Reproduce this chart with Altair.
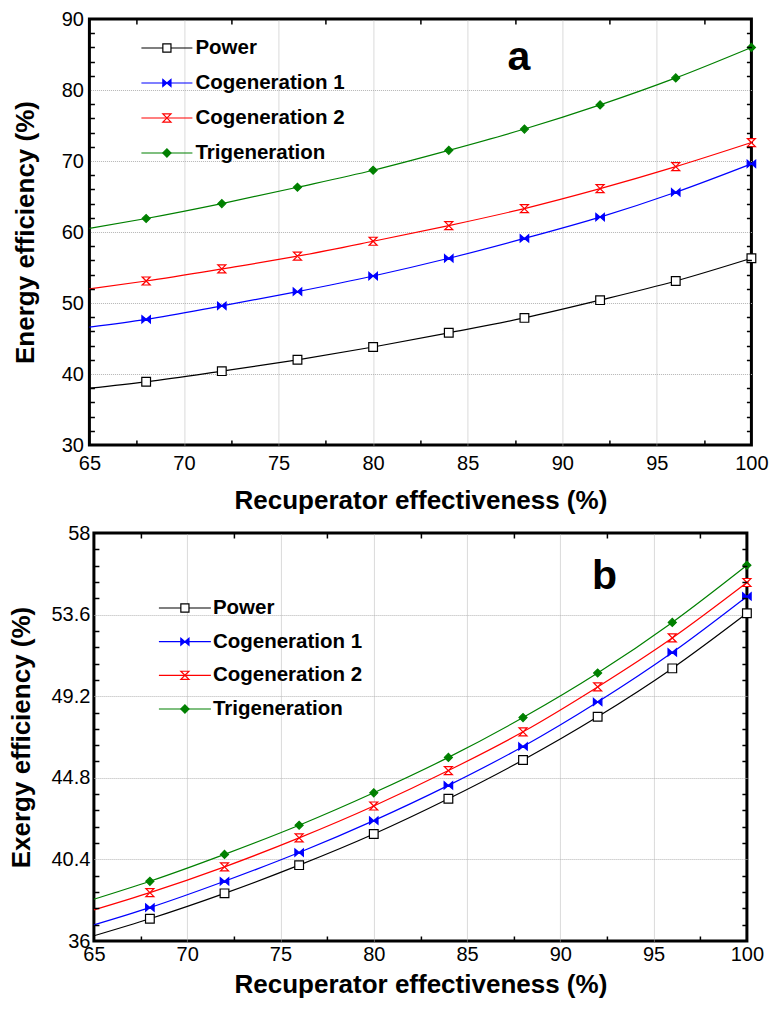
import altair as alt
import pandas as pd

# ---------------- data ----------------
x_pts = [65, 68, 72, 76, 80, 84, 88, 92, 96, 100]
series_names = ["Power", "Cogeneration 1", "Cogeneration 2", "Trigeneration"]

energy_power = [38.0, 38.9, 40.4, 42.0, 43.8, 45.8, 47.9, 50.4, 53.1, 56.3]
energy_cog1 = [46.6, 47.7, 49.6, 51.6, 53.8, 56.3, 59.1, 62.1, 65.6, 69.6]
energy_cog2 = [52.0, 53.1, 54.8, 56.6, 58.7, 60.9, 63.3, 66.1, 69.2, 72.6]
energy_trig = [60.5, 61.9, 64.0, 66.3, 68.7, 71.5, 74.5, 77.9, 81.7, 86.0]

exergy_power = [36.28, 37.2, 38.57, 40.09, 41.77, 43.67, 45.76, 48.09, 50.70, 53.67]
exergy_cog1 = [36.87, 37.8, 39.22, 40.77, 42.49, 44.39, 46.49, 48.89, 51.56, 54.58]
exergy_cog2 = [37.68, 38.61, 40.0, 41.56, 43.28, 45.19, 47.28, 49.7, 52.34, 55.33]
exergy_trig = [38.25, 39.22, 40.67, 42.24, 43.99, 45.9, 48.05, 50.45, 53.18, 56.26]

x_labels = [65, 70, 75, 80, 85, 90, 95, 100]
x_grid = [70, 75, 80, 85, 90, 95]
x_minor = [67.5, 72.5, 77.5, 82.5, 87.5, 92.5, 97.5]

energy_y_labels = [30, 40, 50, 60, 70, 80, 90]
energy_y_grid = [40, 50, 60, 70, 80]
energy_y_minor = [32, 34, 36, 38, 42, 44, 46, 48, 52, 54, 56, 58, 62, 64, 66, 68,
                  72, 74, 76, 78, 82, 84, 86, 88]

exergy_y_labels = [36, 40.4, 44.8, 49.2, 53.6, 58]
exergy_y_grid = [40.4, 44.8, 49.2, 53.6]
exergy_y_minor = [36.88, 37.76, 38.64, 39.52, 41.28, 42.16, 43.04, 43.92,
                  45.68, 46.56, 47.44, 48.32, 50.08, 50.96, 51.84, 52.72,
                  54.48, 55.36, 56.24, 57.12]

X_TITLE = "Recuperator effectiveness (%)"

# ---------------- styles ----------------
FONT = "Liberation Sans"
series_colors = ["#000000", "#0000ff", "#ff0000", "#008000"]
marker_fills = ["#ffffff", "#0000ff", "#ffffff", "#008000"]
marker_shapes = [
    "square",
    "M-1,-0.85L0,0L-1,0.85ZM1,-0.85L0,0L1,0.85Z",
    "M-1,-1H1L-1,1H1Z",
    "diamond",
]
marker_sizes = [76, 72, 64, 64]


def long_df(lists):
    rows = []
    for name, vals in zip(series_names, lists):
        for xv, yv in zip(x_pts, vals):
            rows.append({"series": name, "x": xv, "v": yv})
    return pd.DataFrame(rows)


def panel(df, y_domain, y_labels, y_grid, y_minor, W, H, y_title, tag, tag_x, tag_y,
          leg_x0, leg_x1, leg_xt, leg_rows, y_title_pad, y_label_pad,
          x_label_pad, x_title_pad):
    xs = alt.Scale(domain=[65, 100], nice=False, zero=False)
    ys = alt.Scale(domain=y_domain, nice=False, zero=False)
    base = alt.Chart(df)
    color_scale = alt.Scale(domain=series_names, range=series_colors)

    lab_x = alt.Axis(values=x_labels, grid=False, ticks=False, tickSize=0, domain=False,
                     labelFlush=False, labelFontSize=20, labelColor="black", labelPadding=x_label_pad,
                     labelExpr="datum.value + ''",
                     title=X_TITLE, titleFontSize=26, titleFontWeight="bold", titleColor="black",
                     titlePadding=x_title_pad)
    lab_y = alt.Axis(values=y_labels, grid=False, ticks=False, tickSize=0, domain=False,
                     labelFlush=False, labelFontSize=20, labelColor="black", labelPadding=y_label_pad,
                     labelExpr="datum.value + ''",
                     title=y_title, titleFontSize=26, titleFontWeight="bold", titleColor="black",
                     titlePadding=y_title_pad)
    grid_x = alt.Axis(values=x_grid, grid=True, gridColor="#b4b4b4", gridDash=[1, 1], gridWidth=1,
                      labels=False, ticks=False, domain=False, title=None, zindex=0)
    grid_y = alt.Axis(values=y_grid, grid=True, gridColor="#b4b4b4", gridDash=[1, 1], gridWidth=1,
                      labels=False, ticks=False, domain=False, title=None, zindex=0, minExtent=0)

    def tick_axis(values, orient, offset):
        return alt.Axis(values=values, orient=orient, offset=offset, grid=False, labels=False,
                        domain=False, ticks=True, tickSize=5, tickWidth=1.5, tickColor="black",
                        title=None, minExtent=0, zindex=1)

    lines = base.mark_line(strokeWidth=1.2, interpolate="monotone").encode(
        x=alt.X("x:Q", scale=xs, axis=lab_x),
        y=alt.Y("v:Q", scale=ys, axis=lab_y),
        color=alt.Color("series:N", scale=color_scale, legend=None),
    )

    axis_sets = [
        (grid_x, grid_y),
        (tick_axis(x_minor, "top", -H), tick_axis(y_minor, "right", -W)),
        (tick_axis(x_minor, "bottom", -H), tick_axis(y_minor, "left", -W)),
        (None, None),
    ]
    layers = [lines]
    for i, name in enumerate(series_names):
        ax, ay = axis_sets[i]
        pts = base.transform_filter(alt.datum.series == name).transform_filter(
            alt.datum.x >= 68
        ).mark_point(
            shape=marker_shapes[i], size=marker_sizes[i], filled=True, fill=marker_fills[i],
            stroke=series_colors[i], strokeWidth=1.2, opacity=1,
        ).encode(
            x=alt.X("x:Q", scale=xs, axis=ax),
            y=alt.Y("v:Q", scale=ys, axis=ay),
        )
        layers.append(pts)

    # ---- legend (inside the plot, upper left), rows placed by a point scale ----
    leg_df = pd.DataFrame({"series": series_names})
    leg_y = alt.Y("series:N", scale=alt.Scale(type="point", domain=series_names,
                                              range=leg_rows, padding=0), axis=None)
    leg_base = alt.Chart(leg_df)
    leg_rule = leg_base.mark_rule(strokeWidth=1.2).encode(
        x=alt.value(leg_x0), x2=alt.value(leg_x1), y=leg_y,
        color=alt.Color("series:N", scale=color_scale, legend=None),
    )
    leg_mark = leg_base.mark_point(filled=True, opacity=1, strokeWidth=1.2, size=66).encode(
        x=alt.value((leg_x0 + leg_x1) / 2), y=leg_y,
        shape=alt.Shape("series:N", scale=alt.Scale(domain=series_names, range=marker_shapes), legend=None),
        fill=alt.Fill("series:N", scale=alt.Scale(domain=series_names, range=marker_fills), legend=None),
        stroke=alt.Stroke("series:N", scale=alt.Scale(domain=series_names, range=series_colors), legend=None),
    )
    leg_text = leg_base.mark_text(align="left", baseline="middle", fontSize=20.5, fontWeight="bold",
                                  color="black").encode(
        x=alt.value(leg_xt), y=leg_y, text="series:N",
    )
    layers += [leg_rule, leg_mark, leg_text]

    tag_layer = alt.Chart(pd.DataFrame({"tag": [tag]})).mark_text(
        fontSize=41, fontWeight="bold", color="black", align="left", baseline="alphabetic"
    ).encode(
        x=alt.X(datum=tag_x, type="quantitative", scale=xs, axis=None),
        y=alt.Y(datum=tag_y, type="quantitative", scale=ys, axis=None),
        text="tag:N",
    )
    layers.append(tag_layer)

    return alt.layer(*layers).resolve_axis(x="independent", y="independent").resolve_scale(
        y="independent"
    ).properties(width=W, height=H)


top = panel(long_df([energy_power, energy_cog1, energy_cog2, energy_trig]),
            [30, 90], energy_y_labels, energy_y_grid, energy_y_minor, 662, 426,
            "Energy efficiency (%)", "a", 87.1, 82.8,
            52, 103, 106, [29, 134],
            23, 6, 8, 14)
bottom = panel(long_df([exergy_power, exergy_cog1, exergy_cog2, exergy_trig]),
               [36, 58], exergy_y_labels, exergy_y_grid, exergy_y_minor, 653, 408,
               "Exergy efficiency (%)", "b", 91.7, 55.0,
               65, 117, 119, [75, 176],
               16, 4, 3, 7)

chart = alt.vconcat(top, bottom, spacing=6, center=True,
                    padding={"left": 7, "top": 7, "right": 0, "bottom": 5}).resolve_scale(
    x="independent", y="independent", color="independent", fill="independent",
    stroke="independent", shape="independent",
).configure(font=FONT).configure_view(stroke="black", strokeWidth=3)

chart.save("out.html", embed_options={"renderer": "svg", "actions": False})
